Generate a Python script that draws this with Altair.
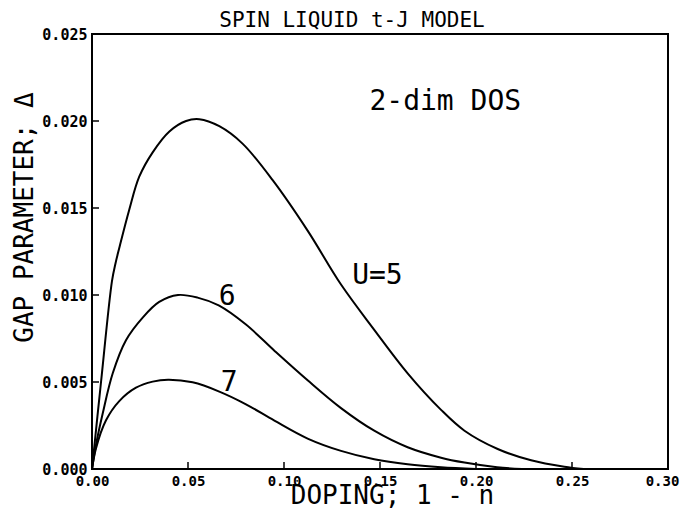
import altair as alt
import pandas as pd

# ---- data ----
u5_x = [0, 0.0047, 0.0104, 0.0122, 0.0142, 0.0194, 0.0246, 0.0316, 0.0403, 0.049, 0.0559,
        0.0663, 0.0784, 0.0941, 0.1123, 0.1297, 0.147, 0.1644, 0.1818, 0.194, 0.2113,
        0.2287, 0.246, 0.256]
u5_y = [0, 0.0050, 0.0108, 0.0118, 0.0127, 0.0149, 0.0168, 0.0182, 0.0194, 0.0200,
        0.0201, 0.0197, 0.0187, 0.0166, 0.0137, 0.0106, 0.0080, 0.0055, 0.0034,
        0.0022, 0.00115, 0.0005, 0.00013, 0]

u6_x = [0, 0.0021, 0.0056, 0.0108, 0.0177, 0.0264, 0.035, 0.0448, 0.055, 0.066, 0.0802,
        0.095, 0.1123, 0.1297, 0.147, 0.1644, 0.1818, 0.194, 0.211, 0.224]
u6_y = [0, 0.0014, 0.0032, 0.0055, 0.0074, 0.0087, 0.0096, 0.0100, 0.00985, 0.0094,
        0.0083, 0.0068, 0.0051, 0.0035, 0.0022, 0.00125, 0.00065, 0.00037, 0.0001, 0]

u7_x = [0, 0.0021, 0.0073, 0.0142, 0.0229, 0.0316, 0.0396, 0.0524, 0.0663, 0.0802, 0.095,
        0.1123, 0.1297, 0.147, 0.1644, 0.1818, 0.2]
u7_y = [0, 0.0012, 0.0028, 0.0039, 0.00467, 0.00502, 0.00513, 0.00498, 0.00445, 0.00372,
        0.00278, 0.00175, 0.00104, 0.00056, 0.00027, 0.0001, 0]

x_ticks = [0.0, 0.05, 0.10, 0.15, 0.20, 0.25, 0.30]
y_ticks = [0.0, 0.005, 0.010, 0.015, 0.020, 0.025]
x_inner_ticks = [0.05, 0.10, 0.15, 0.20, 0.25]
y_inner_ticks = [0.005, 0.010, 0.015, 0.020]

label_text = ["2-dim DOS", "U=5", "6", "7"]
label_x = [0.1445, 0.1355, 0.0660, 0.0670]
label_y = [0.0211, 0.01112, 0.00991, 0.00497]

# ---- tables ----
rows = []
for name, xs, ys in [("U=5", u5_x, u5_y), ("U=6", u6_x, u6_y), ("U=7", u7_x, u7_y)]:
    for a, b in zip(xs, ys):
        rows.append({"series": name, "x": a, "y": b})
df = pd.DataFrame(rows)
labels_df = pd.DataFrame({"text": label_text, "x": label_x, "y": label_y})
xt_df = pd.DataFrame({"v": x_inner_ticks})
yt_df = pd.DataFrame({"v": y_inner_ticks})

MONO = "DejaVu Sans Mono"
W, H = 576, 435

xscale = alt.Scale(domain=[0, 0.30], nice=False, zero=False)
yscale = alt.Scale(domain=[0, 0.025], nice=False)

xaxis = alt.Axis(values=x_ticks, format=".2f", title="DOPING; 1 - n",
                 grid=False, domain=False, ticks=False, labelFlush=False,
                 labelFont=MONO, labelFontSize=14, labelFontWeight="bold",
                 labelColor="black", labelPadding=5,
                 labelOffset={"condition": {"test": "datum.value >= 0.299", "value": -6},
                              "value": 0},
                 titleFont=MONO, titleFontSize=26, titleFontWeight="normal",
                 titleColor="black", titleX=300, titleY=26,
                 titleAlign="center", titleBaseline="middle")
yaxis = alt.Axis(values=y_ticks, format=".3f", title="GAP PARAMETER; Δ",
                 grid=False, domain=False, ticks=False, labelFlush=False,
                 labelFont=MONO, labelFontSize=15, labelFontWeight="bold",
                 labelColor="black", labelPadding=5, labelOverlap=False,
                 titleFont=MONO, titleFontSize=26, titleFontWeight="normal",
                 titleColor="black", titleX=-68, titleY=183, titleAngle=-90,
                 titleAlign="center", titleBaseline="middle")

lines = alt.Chart(df).mark_line(color="black", strokeWidth=2, interpolate="catmull-rom").encode(
    x=alt.X("x:Q", scale=xscale, axis=xaxis),
    y=alt.Y("y:Q", scale=yscale, axis=yaxis),
    detail="series:N",
)

xticks = alt.Chart(xt_df).mark_rule(color="black", strokeWidth=1.5).encode(
    x=alt.X("v:Q", scale=xscale),
    y=alt.value(H),
    y2=alt.value(H - 7),
)
yticks = alt.Chart(yt_df).mark_rule(color="black", strokeWidth=1.5).encode(
    y=alt.Y("v:Q", scale=yscale),
    x=alt.value(0),
    x2=alt.value(7),
)

texts = alt.Chart(labels_df).mark_text(
    font=MONO, fontSize=28, align="left", baseline="middle", color="black"
).encode(
    x=alt.X("x:Q", scale=xscale),
    y=alt.Y("y:Q", scale=yscale),
    text="text:N",
)

chart = alt.layer(lines, xticks, yticks, texts).properties(
    width=W,
    height=H,
    autosize="none",
    background="white",
    padding={"left": 84, "top": 26, "right": 12, "bottom": 42},
    title=alt.TitleParams(text="SPIN LIQUID t-J MODEL", font=MONO, fontSize=21,
                          fontWeight="normal", color="black", anchor="middle",
                          dx=-28, dy=7, offset=3),
).configure_view(stroke="black", strokeWidth=2)

chart.save("out.html", embed_options={"renderer": "svg", "actions": False})
